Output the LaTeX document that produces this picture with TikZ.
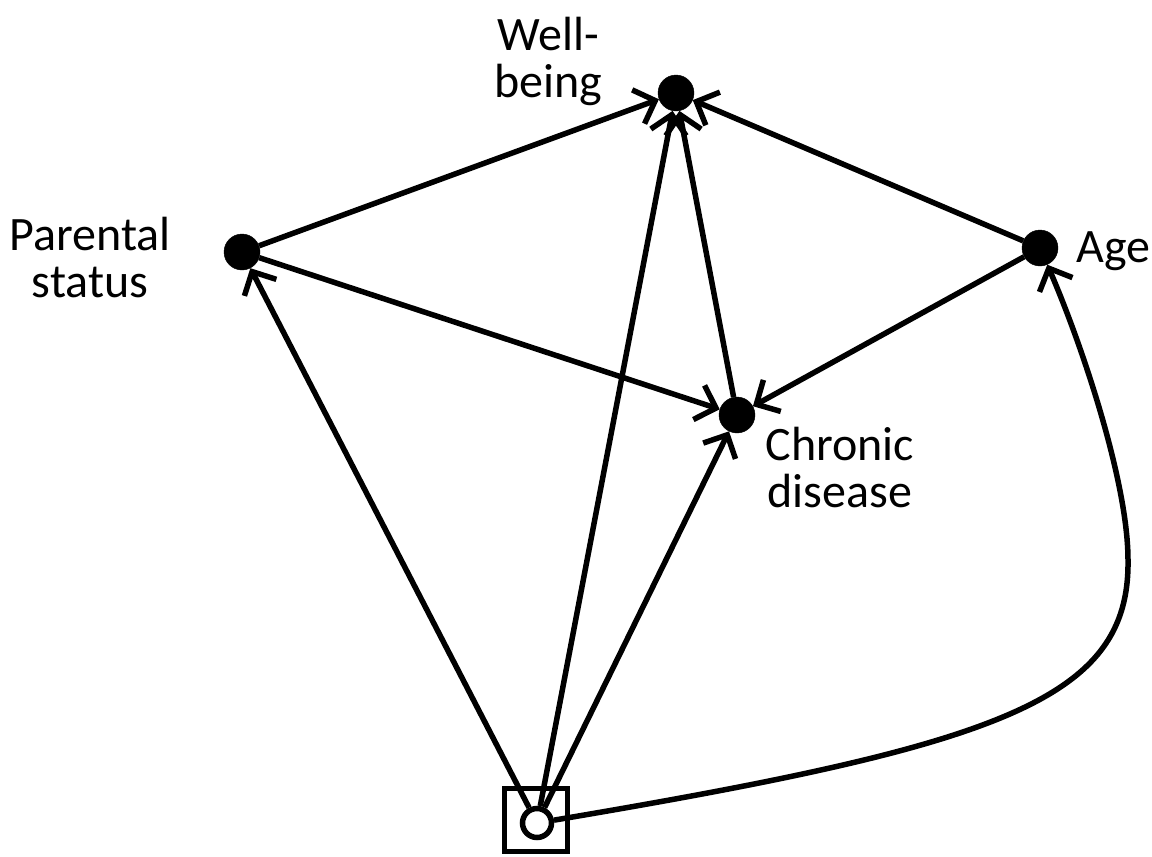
\documentclass[tikz,border=0pt]{standalone}
\usepackage{fontspec}
\setmainfont{Carlito}
\usetikzlibrary{arrows.meta}
\tikzset{
  var/.style={circle,fill=black,draw=black,inner sep=0pt,minimum size=36pt},
  lbl/.style={align=center,inner sep=0pt,font=\fontsize{48}{47}\selectfont},
  edge/.style={line width=5.5pt,-{Straight Barb[length=18pt,width=36pt,line width=5.5pt]}},
}
\begin{document}
\begin{tikzpicture}[x=1pt,y=-1pt]
  \useasboundingbox (0,0) rectangle (1152,857);
  % variables
  \node[var] (W) at (676,93) {};
  \node[var] (P) at (242,252) {};
  \node[var] (A) at (1040,248) {};
  \node[var] (C) at (737,415) {};
  % selection node: open circle inside a square
  \node[draw,line width=5.5pt,minimum size=63pt,inner sep=0pt] (box) at (536,820) {};
  \node[circle,draw,fill=white,line width=5.5pt,minimum size=29pt,inner sep=0pt] (S) at (537,823) {};
  % labels (anchored at the baseline of the last line)
  \node[lbl,anchor=base] (lW) at (548,97) {Well-\\being};
  \node[lbl,anchor=base] (lP) at (90,297) {Parental\\status};
  \node[lbl,anchor=base] (lC) at (840,507) {Chronic\\disease};
  \node[lbl,anchor=base west] (lA) at (1076,262) {Age};
  % arrows
  \draw[edge] (P) -- (W);
  \draw[edge] (P) -- (C);
  \draw[edge] (A) -- (W);
  \draw[edge] (A) -- (C);
  \draw[edge] (C) -- (W);
  \draw[edge] (S) -- (P);
  \draw[edge] (S) -- (W);
  \draw[edge] (S) -- (C);
  \draw[edge] (S) .. controls (1000,745) and (1130,700) .. (1128,560)
                  .. controls (1128,480) and (1080,340) .. (A);
\end{tikzpicture}
\end{document}
